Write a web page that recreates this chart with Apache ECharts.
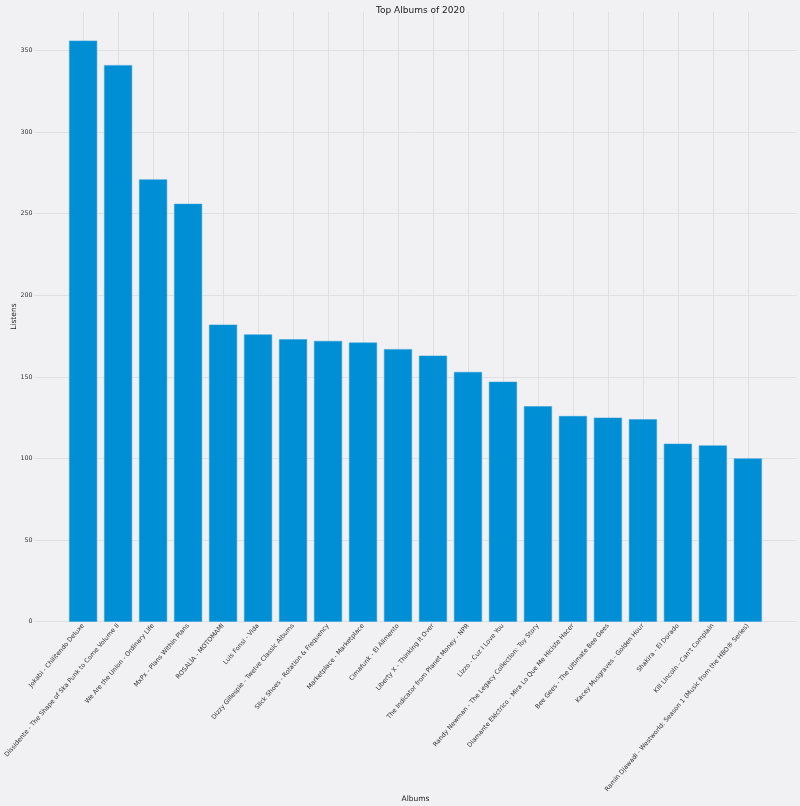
<!DOCTYPE html>
<html>
<head>
<meta charset="utf-8">
<script src="https://cdn.jsdelivr.net/npm/echarts@6/dist/echarts.min.js"></script>
<style>
  html, body { margin: 0; padding: 0; background: #f1f0f2; }
  #chart { width: 800px; height: 806px; }
</style>
</head>
<body>
<div id="chart"></div>
<script>
const albums = [
  "Jokabi - Chilitendo Deluxe",
  "Dissidente - The Shape of Ska Punk to Come Volume II",
  "We Are the Union - Ordinary Life",
  "MxPx - Plans Within Plans",
  "ROSALÍA - MOTOMAMI",
  "Luis Fonsi - Vida",
  "Dizzy Gillespie - Twelve Classic Albums",
  "Slick Shoes - Rotation & Frequency",
  "Marketplace - Marketplace",
  "Cimafunk - El Alimento",
  "Liberty X - Thinking It Over",
  "The Indicator from Planet Money - NPR",
  "Lizzo - Cuz I Love You",
  "Randy Newman - The Legacy Collection: Toy Story",
  "Diamante Eléctrico - Mira Lo Que Me Hiciste Hacer",
  "Bee Gees - The Ultimate Bee Gees",
  "Kacey Musgraves - Golden Hour",
  "Shakira - El Dorado",
  "Kill Lincoln - Can't Complain",
  "Ramin Djawadi - Westworld: Season 1 (Music from the HBO® Series)"
];
const listens = [356, 341, 271, 256, 182, 176, 173, 172, 171, 167, 163, 153, 147, 132, 126, 125, 124, 109, 108, 100];
const yTicks = [0, 50, 100, 150, 200, 250, 300, 350];

const positions = albums.map((_, i) => i);
const barData = albums.map((_, i) => [i, listens[i]]);
const yMax = Math.max(...listens) * 1.05;
const xPad = (albums.length - 1 + 0.8) * 0.05;

const chart = echarts.init(document.getElementById('chart'), null, { renderer: 'canvas' });
const font = 'DejaVu Sans';
const gridColor = '#dcdbe0';

chart.setOption({
  backgroundColor: '#f1f0f2',
  animation: false,
  textStyle: { fontFamily: font },
  title: {
    text: 'Top Albums of 2020',
    left: 415.5,
    top: 1,
    textAlign: 'center',
    textStyle: { fontFamily: font, fontSize: 9, fontWeight: 'normal', color: '#222' }
  },
  grid: { left: 34.5, right: 3.5, top: 11.6, bottom: 184.3, containLabel: false, outerBoundsMode: 'none' },
  xAxis: {
    type: 'value',
    min: -0.4 - xPad,
    max: albums.length - 1 + 0.4 + xPad,
    name: 'Albums',
    nameLocation: 'middle',
    nameGap: 173,
    nameMoveOverlap: false,
    nameTextStyle: { fontFamily: font, fontSize: 7.5, color: '#222' },
    axisLine: { show: false },
    axisTick: { show: false, customValues: positions },
    axisLabel: {
      customValues: positions,
      rotate: 49.5,
      margin: 3,
      fontSize: 6.35,
      color: '#333',
      fontFamily: font,
      formatter: v => albums[Math.round(v)]
    },
    splitLine: { show: true, lineStyle: { color: gridColor, width: 0.8 } }
  },
  yAxis: {
    type: 'value',
    min: 0,
    max: yMax,
    name: 'Listens',
    nameLocation: 'middle',
    nameGap: 16,
    nameRotate: 90,
    nameMoveOverlap: false,
    nameTextStyle: { fontFamily: font, fontSize: 7.5, color: '#222' },
    axisLine: { show: false },
    axisTick: { show: false, customValues: yTicks },
    axisLabel: { customValues: yTicks, margin: 2, fontSize: 6.3, color: '#333', fontFamily: font },
    splitLine: { show: true, lineStyle: { color: gridColor, width: 0.8 } }
  },
  series: [{
    type: 'bar',
    data: barData,
    barWidth: 28,
    itemStyle: { color: '#008fd5', borderColor: '#2a9fdc', borderWidth: 0.5 }
  }]
});
</script>
</body>
</html>
